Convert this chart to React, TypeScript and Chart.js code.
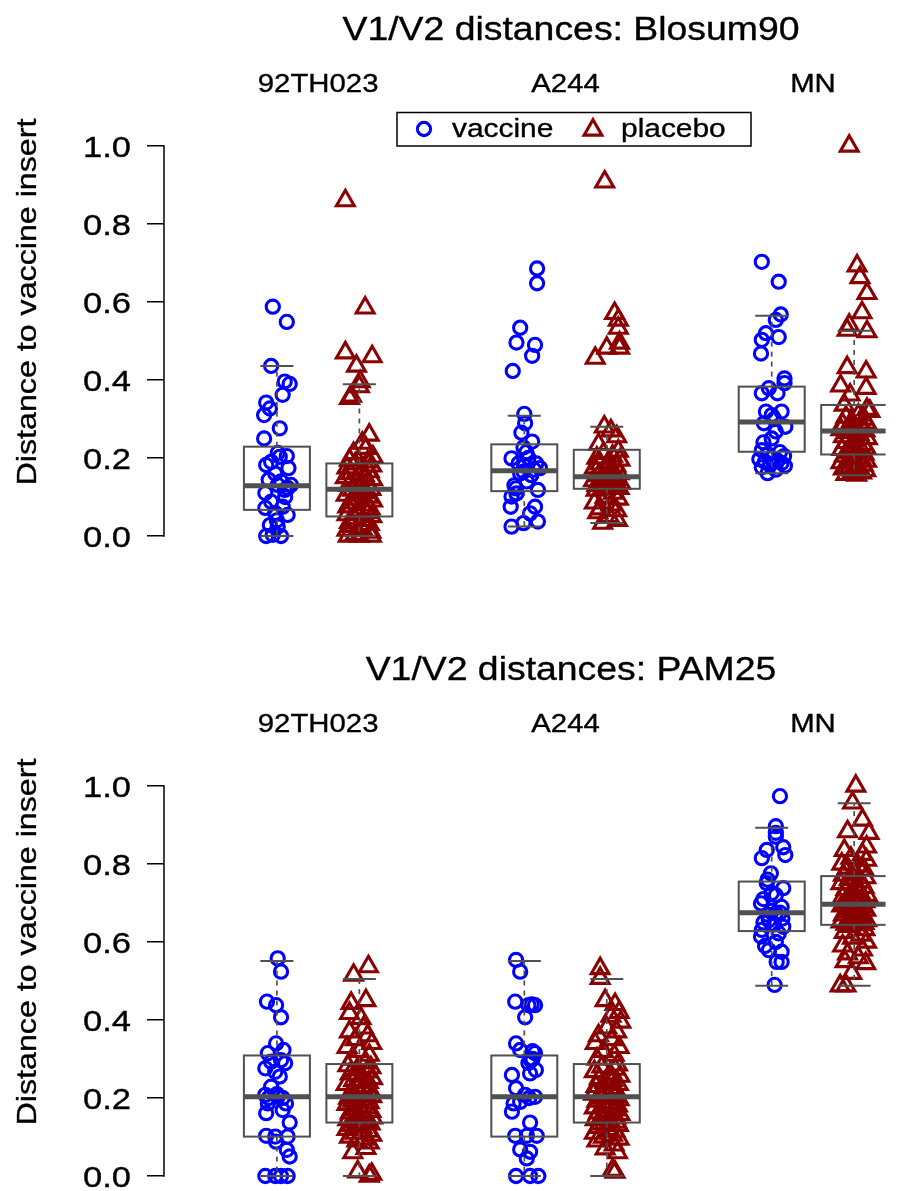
import { useEffect, useRef } from 'react';
import { Chart, registerables } from 'chart.js';

Chart.register(...registerables);

// ---------------- data ----------------
const GROUPS = ['92TH023', 'A244', 'MN'];
const ARMS = ['vaccine', 'placebo'];
const Y_TICKS = [0, 0.2, 0.4, 0.6, 0.8, 1.0];
const BOX_POS = [1, 2, 4, 5, 7, 8];
const GROUP_POS = [1.5, 4.5, 7.5];
const TITLES = ['V1/V2 distances: Blosum90', 'V1/V2 distances: PAM25'];
const Y_TITLE = 'Distance to vaccine insert';

// box stats [lowWhisker, q1, median, q3, highWhisker]
const B90_BOX = [
  [0, 0.067, 0.129, 0.229, 0.436],
  [0, 0.05, 0.12, 0.186, 0.389],
  [0.024, 0.115, 0.167, 0.235, 0.308],
  [0.033, 0.121, 0.152, 0.221, 0.28],
  [0.161, 0.216, 0.292, 0.383, 0.565],
  [0.156, 0.209, 0.269, 0.336, 0.526],
];
const PAM_BOX = [
  [0, 0.101, 0.203, 0.309, 0.551],
  [0, 0.137, 0.203, 0.287, 0.505],
  [0, 0.101, 0.203, 0.309, 0.551],
  [0, 0.137, 0.203, 0.287, 0.505],
  [0.488, 0.628, 0.675, 0.755, 0.893],
  [0.488, 0.644, 0.697, 0.769, 0.956],
];

// Blosum90 values
const B90_92_VAC = [0.588,0.549,0.436,0.396,0.39,0.362,0.342,0.327,0.31,0.276,0.25,0.213,0.205,0.203,0.19,0.182,0.174,0.16,0.144,0.14,0.131,0.131,0.123,0.118,0.11,0.1,0.088,0.075,0.072,0.059,0.054,0.04,0.028,0.024,0.003,0,0];
const B90_92_PLA = [0.86,0.585,0.47,0.46,0.436,0.396,0.383,0.359,0.353,0.259,0.238,0.225,0.212,0.203,
  0.195,0.19,0.185,0.18,0.175,0.17,0.165,0.16,0.155,0.15,0.145,0.14,0.135,0.13,0.125,0.12,0.118,0.112,0.105,0.1,0.095,0.09,0.085,0.08,0.075,0.07,0.065,0.06,0.055,0.05,0.045,0.04,0.035,0.03,0.025,0.02,0.015,0.01,0.005,0,0,0];
const B90_A244_VAC = [0.686,0.648,0.534,0.496,0.49,0.462,0.423,0.313,0.289,0.265,0.242,0.227,0.215,0.2,0.199,0.186,0.186,0.18,0.174,0.17,0.165,0.16,0.156,0.14,0.13,0.122,0.118,0.109,0.101,0.075,0.075,0.058,0.037,0.033,0.024];
const B90_A244_PLA = [0.908,0.571,0.554,0.533,0.495,0.482,0.482,0.456,
  0.28,0.27,0.255,0.235,
  0.218,0.212,0.205,0.2,0.195,0.19,0.185,0.18,0.175,0.17,0.165,0.16,0.155,
  0.15,0.148,0.145,0.142,0.14,0.137,0.135,0.132,0.13,0.127,0.125,0.122,
  0.118,0.11,0.1,0.095,0.085,0.08,0.07,0.065,0.06,0.05,0.04,0.033];
const B90_MN_VAC = [0.703,0.652,0.568,0.554,0.52,0.51,0.503,0.468,0.404,0.392,0.379,0.366,0.366,0.319,0.319,0.31,0.3,0.289,0.28,0.268,0.25,0.24,
  0.22,0.215,0.21,0.205,0.2,0.197,0.193,0.19,0.187,0.183,0.18,0.176,0.17,0.161];
const B90_MN_PLA = [1.0,0.693,0.663,0.622,0.573,0.541,0.528,0.524,0.432,0.421,0.385,0.379,0.362,0.336,0.325,0.32,
  0.31,0.305,0.3,0.295,0.29,0.287,0.283,0.28,0.277,0.275,0.273,0.27,
  0.265,0.26,0.255,0.25,0.245,0.24,0.235,0.23,0.226,0.222,0.218,0.214,0.21,
  0.205,0.2,0.196,0.192,0.188,0.185,0.182,0.178,0.175,0.172,0.168,0.165,0.162,0.158,0.156];

// PAM25 values
const PAM_92_VAC = [0.558,0.524,0.447,0.438,0.407,0.34,0.323,0.315,0.297,0.293,0.289,0.276,0.267,0.255,0.229,0.21,0.208,0.203,0.2,0.2,0.186,0.186,0.169,0.161,0.137,0.103,0.101,0.101,0.088,0.067,0.05,0,0,0,0];
const PAM_92_PLA = [0.537,0.515,0.45,0.443,0.417,0.404,
  0.38,0.37,0.36,0.35,0.34,0.33,0.32,0.31,0.3,0.29,
  0.283,0.278,0.272,0.267,0.262,0.256,0.25,0.245,0.24,0.235,0.23,0.225,0.22,0.215,0.21,0.207,0.204,
  0.2,0.196,0.192,0.188,0.184,0.18,0.175,0.17,0.166,0.162,0.158,0.153,0.149,0.145,0.141,0.138,
  0.134,0.13,0.125,0.12,0.115,0.11,0.105,0.1,0.095,0.09,0.085,0.071,0.06,0.011,0.005,0];
const PAM_A244_VAC = [0.554,0.524,0.447,0.44,0.438,0.438,0.407,0.34,0.323,0.32,0.315,0.3,0.297,0.29,0.272,0.263,0.259,0.225,0.208,0.203,0.2,0.19,0.186,0.165,0.137,0.103,0.103,0.103,0.068,0.062,0.045,0,0,0];
const PAM_A244_PLA = [0.532,0.507,0.45,0.44,0.42,0.41,0.395,
  0.38,0.37,0.36,0.35,0.34,0.33,0.32,0.31,0.3,
  0.285,0.28,0.274,0.268,0.262,0.256,0.25,0.245,0.24,0.235,0.23,0.225,0.22,0.215,0.21,0.207,0.204,
  0.2,0.196,0.192,0.188,0.184,0.18,0.175,0.17,0.166,0.162,0.158,0.153,0.149,0.145,0.141,0.138,
  0.134,0.13,0.125,0.12,0.115,0.11,0.105,0.1,0.095,0.09,0.08,0.07,0.06,0.015,0.01];
const PAM_MN_VAC = [0.974,0.897,0.88,0.87,0.843,0.836,0.823,0.815,0.776,0.76,0.751,0.738,0.725,0.72,0.71,0.699,0.69,0.68,0.675,0.674,0.67,0.66,0.656,0.65,0.645,0.639,0.631,0.622,0.614,0.6,0.59,0.579,0.575,0.549,0.549,0.49];
const PAM_MN_PLA = [1.0,0.957,0.913,0.883,0.879,0.844,
  0.835,0.825,0.815,0.81,0.8,0.795,0.79,0.785,0.778,0.772,
  0.765,0.76,0.755,0.75,0.745,0.74,0.735,0.73,0.725,0.72,0.715,0.71,0.707,0.704,0.702,0.7,0.698,
  0.693,0.69,0.686,0.682,0.678,0.674,0.67,0.666,0.662,0.658,0.655,0.652,0.65,0.648,0.646,0.645,
  0.64,0.632,0.625,0.618,0.61,0.6,0.59,0.58,0.57,0.56,0.55,0.545,0.52,0.488,0.488];

// horizontal jitter (in x units) of each point, as seen in the picture
const J_B90_92_VAC = [-0.05,0.12,-0.07,0.095,0.155,0.07,-0.13,-0.085,-0.155,0.035,-0.155,0.01,0.12,0.035,-0.07,-0.13,0.14,-0.02,-0.1,0.05,0.01,0.17,0.13,0.095,-0.14,0.1,-0.07,0.07,-0.14,-0.02,0.13,0,-0.085,0.01,-0.05,0.05,-0.13];
const J_B90_92_PLA = [-0.17,0.07,-0.17,0.155,-0.035,0.01,0,-0.095,-0.12,0.12,0.035,0.08,-0.07,0.165,
  -0.12,0.1,-0.05,0.15,-0.15,0.03,0.12,-0.1,0.06,-0.17,0.16,-0.03,0.09,-0.13,0.02,0.14,-0.08,0.07,-0.16,0.11,-0.04,0.16,-0.11,0.04,-0.14,0.13,-0.02,0.09,-0.15,0.15,-0.06,0.05,-0.12,0.12,-0.09,0.03,-0.15,0.14,-0.05,-0.135,0.145,0];
const J_B90_A244_VAC = [0.155,0.155,-0.05,-0.095,0.13,0.095,-0.14,0,0.01,-0.035,0.095,-0.01,0.025,0.05,-0.155,-0.07,0.145,0,0.19,0.12,-0.01,-0.05,0.085,0.03,-0.12,-0.1,0.165,-0.095,-0.155,-0.165,0.13,0.07,0.165,-0.01,-0.155];
const J_B90_A244_PLA = [-0.025,0.095,0.14,0.14,0.155,0.155,0,-0.14,
  -0.03,0.05,0.12,-0.1,
  0.14,-0.04,0.07,-0.12,0.16,0.02,-0.08,0.11,-0.15,0.06,-0.02,0.15,-0.1,
  0.08,-0.05,0.13,-0.16,0.04,-0.07,0.17,0,-0.12,0.1,-0.04,0.15,
  -0.13,0.08,-0.02,0.14,-0.15,0.05,-0.08,0.12,-0.11,0.03,0.13,-0.05];
const J_B90_MN_VAC = [-0.12,0.085,0.11,0.05,-0.07,0.085,-0.12,-0.13,0.155,0.155,-0.035,-0.12,0.07,-0.07,0.12,0,0.03,-0.095,0.165,0.05,0,-0.1,
  -0.12,0.1,-0.05,0.15,0,-0.15,0.07,-0.08,0.12,-0.02,0.16,-0.12,0.05,-0.05];
const J_B90_MN_PLA = [-0.06,0.035,0.07,0.155,0.095,-0.06,-0.085,0.155,-0.085,0.145,-0.165,0.145,-0.05,-0.12,0.155,0.19,
  0.05,-0.1,0.12,-0.03,0.15,-0.14,0.08,-0.06,0.1,0,-0.16,0.13,
  -0.08,0.06,-0.13,0.16,0,-0.1,0.11,-0.04,0.14,-0.15,0.04,-0.07,0.12,
  -0.12,0.08,-0.03,0.15,-0.16,0.02,0.11,-0.09,0.06,-0.13,0.14,-0.02,0.09,-0.1,0.03];
const J_PAM_92_VAC = [0.01,0.05,-0.12,-0.01,0.05,-0.01,0.08,-0.11,0.05,-0.07,0.1,-0.14,-0.02,0.035,-0.07,0,-0.14,0.01,-0.1,0.07,-0.11,0.11,0.07,-0.13,0.155,-0.13,-0.02,0.13,-0.01,0.12,0.155,-0.14,-0.02,0.05,0.13];
const J_PAM_92_PLA = [0.11,-0.07,0.08,-0.1,-0.12,0.02,
  0.05,-0.12,0.1,-0.05,0.15,-0.15,0,0.12,-0.09,0.07,
  -0.14,0.14,-0.03,0.09,-0.11,0.03,0.16,-0.07,0.11,-0.16,0.05,-0.02,0.13,-0.1,0.08,-0.05,0.15,
  -0.13,0.04,-0.08,0.12,-0.15,0,0.1,-0.06,0.14,-0.11,0.06,-0.02,0.16,-0.14,0.09,-0.04,
  0.13,-0.1,0.03,-0.15,0.11,-0.05,0.15,-0.12,0.06,-0.03,0.12,0.08,-0.08,-0.02,0.15,0.12];
const J_PAM_A244_VAC = [-0.1,-0.05,-0.11,0.09,0.05,0.13,0.01,-0.1,-0.05,0.1,0.13,0.1,0.08,0.05,0.14,0.07,-0.15,-0.1,0.01,0.13,0.06,-0.05,-0.13,-0.15,0.07,-0.11,0.03,0.15,-0.05,0.07,0.03,-0.1,0.07,0.17];
const J_PAM_A244_PLA = [-0.08,-0.08,-0.02,0.1,0.15,0.05,0.17,
  0,0.12,-0.1,0.06,-0.14,0.15,-0.04,0.09,-0.12,
  0.13,-0.06,0.1,-0.15,0.04,0.16,-0.09,0.07,-0.02,0.14,-0.13,0.08,-0.05,0.12,-0.16,0.02,0.1,
  -0.07,0.15,-0.12,0.05,-0.03,0.13,-0.15,0.09,0,-0.1,0.16,-0.06,0.11,-0.14,0.04,0.12,
  -0.08,0.14,-0.11,0.02,0.1,-0.15,0.07,-0.04,0.15,-0.12,0.09,-0.02,0.13,0.07,0.1];
const J_PAM_MN_VAC = [0.1,0.05,0.05,0.05,0.14,-0.06,0.165,-0.12,-0.01,-0.05,-0.06,0.14,0,0.05,-0.1,-0.13,0.12,0,0.1,0.05,-0.05,0.13,-0.035,-0.1,0.03,0.14,-0.12,0.085,-0.13,0.05,-0.08,-0.035,0.12,0.06,0.12,0.035];
const J_PAM_MN_PLA = [0.02,-0.02,0.1,-0.08,0.18,0.15,
  -0.12,0.1,-0.04,0.15,-0.15,0.05,-0.08,0.12,0,-0.13,
  0.14,-0.06,0.08,-0.16,0.03,0.12,-0.1,0.06,-0.03,0.16,-0.14,0.09,-0.07,0.13,0,-0.11,0.05,
  -0.15,0.11,-0.02,0.14,-0.09,0.06,-0.13,0.1,0,-0.06,0.15,-0.16,0.04,0.12,-0.1,0.07,
  -0.05,0.13,-0.12,0.08,-0.02,0.15,-0.14,0.1,-0.08,0.05,-0.11,0.14,-0.03,-0.17,-0.1];

const B90_SERIES = [B90_92_VAC, B90_92_PLA, B90_A244_VAC, B90_A244_PLA, B90_MN_VAC, B90_MN_PLA];
const B90_JITTER = [J_B90_92_VAC, J_B90_92_PLA, J_B90_A244_VAC, J_B90_A244_PLA, J_B90_MN_VAC, J_B90_MN_PLA];
const PAM_SERIES = [PAM_92_VAC, PAM_92_PLA, PAM_A244_VAC, PAM_A244_PLA, PAM_MN_VAC, PAM_MN_PLA];
const PAM_JITTER = [J_PAM_92_VAC, J_PAM_92_PLA, J_PAM_A244_VAC, J_PAM_A244_PLA, J_PAM_MN_VAC, J_PAM_MN_PLA];

// ---------------- styles ----------------
const FONT = '"Liberation Sans", Arial, Helvetica, sans-serif';
const SX = 1.15; // horizontal stretch of the reference glyphs
const BLUE = '#0000ff';
const DARKRED = '#8b0000';
const BOX_COLOR = '#505050';
const CIRCLE_R = 6.6;
const TRI_R = 10.3;
const MARK_LW = 3.1;
const BOX_HALF = 0.4;
const CAP_HALF = 0.2;
const W = 899;
const H = 640;

function drawText(ctx: CanvasRenderingContext2D, text: string, x: number, y: number, size: number, align: CanvasTextAlign, rotate = false) {
  ctx.save();
  ctx.translate(x, y);
  if (rotate) ctx.rotate(-Math.PI / 2);
  ctx.scale(SX, 1);
  ctx.font = `${size}px ${FONT}`;
  ctx.textAlign = align;
  ctx.textBaseline = 'alphabetic';
  ctx.fillStyle = '#000';
  ctx.fillText(text, 0, 0);
  ctx.strokeStyle = '#000';
  ctx.lineWidth = 0.35;
  ctx.strokeText(text, 0, 0);
  ctx.restore();
}

function line(ctx: CanvasRenderingContext2D, x1: number, y1: number, x2: number, y2: number) {
  ctx.beginPath();
  ctx.moveTo(x1, y1);
  ctx.lineTo(x2, y2);
  ctx.stroke();
}

function makePanelPlugin(title: string, boxes: number[][], showLegend: boolean) {
  return {
    id: 'panelDecor',
    afterDatasetsDraw(chart: any) {
      const { ctx, chartArea, scales } = chart;
      const x = scales.x;
      const y = scales.y;
      ctx.save();
      ctx.beginPath();
      ctx.rect(chartArea.left, chartArea.top, chartArea.right - chartArea.left, chartArea.bottom - chartArea.top);
      ctx.clip();
      ctx.strokeStyle = BOX_COLOR;
      boxes.forEach((b, i) => {
        const p = BOX_POS[i];
        const xl = x.getPixelForValue(p - BOX_HALF);
        const xr = x.getPixelForValue(p + BOX_HALF);
        const xc = x.getPixelForValue(p);
        const cl = x.getPixelForValue(p - CAP_HALF);
        const cr = x.getPixelForValue(p + CAP_HALF);
        const [lo, q1, med, q3, hi] = b.map((v) => y.getPixelForValue(v));
        ctx.lineWidth = 1.7;
        ctx.setLineDash([5, 5]);
        line(ctx, xc, q3, xc, hi);
        line(ctx, xc, q1, xc, lo);
        ctx.setLineDash([]);
        ctx.lineWidth = 2;
        line(ctx, cl, hi, cr, hi);
        line(ctx, cl, lo, cr, lo);
        ctx.strokeRect(xl, q3, xr - xl, q1 - q3);
        ctx.lineWidth = 5;
        line(ctx, xl, med, xr, med);
      });
      ctx.restore();
    },
    afterDraw(chart: any) {
      const { ctx, chartArea, scales } = chart;
      const x = scales.x;
      const y = scales.y;
      ctx.save();
      // y axis line from first to last tick
      ctx.strokeStyle = '#000';
      ctx.lineWidth = 1.5;
      const y0 = y.getPixelForValue(Y_TICKS[0]);
      const y1 = y.getPixelForValue(Y_TICKS[Y_TICKS.length - 1]);
      line(ctx, chartArea.left, y0 + 0.75, chartArea.left, y1 - 0.75);
      // tick labels
      y.ticks.forEach((t: any) => {
        drawText(ctx, t.value.toFixed(1), 131, y.getPixelForValue(t.value) + 10.8, 30, 'right');
      });
      // y title
      drawText(ctx, Y_TITLE, 35.5, (chartArea.top + chartArea.bottom) / 2, 28, 'center', true);
      // main title
      drawText(ctx, title, 571, 40, 32.5, 'center');
      // group labels
      GROUPS.forEach((g, i) => {
        drawText(ctx, g, x.getPixelForValue(GROUP_POS[i]), 92, 25.5, 'center');
      });
      if (showLegend) {
        ctx.strokeStyle = '#000';
        ctx.lineWidth = 1.5;
        ctx.strokeRect(397, 112.5, 354, 33.5);
        ctx.lineWidth = MARK_LW;
        ctx.strokeStyle = BLUE;
        ctx.beginPath();
        ctx.arc(424, 129, CIRCLE_R, 0, Math.PI * 2);
        ctx.stroke();
        drawText(ctx, ARMS[0], 452, 137, 26, 'left');
        ctx.strokeStyle = DARKRED;
        const tx = 593, ty = 130;
        ctx.beginPath();
        ctx.moveTo(tx, ty - TRI_R);
        ctx.lineTo(tx + TRI_R * Math.sin((2 * Math.PI) / 3), ty + TRI_R / 2);
        ctx.lineTo(tx - TRI_R * Math.sin((2 * Math.PI) / 3), ty + TRI_R / 2);
        ctx.closePath();
        ctx.stroke();
        drawText(ctx, ARMS[1], 621, 137, 26, 'left');
      }
      ctx.restore();
    },
  };
}

function buildConfig(title: string, series: number[][], jitter: number[][], boxes: number[][], showLegend: boolean): any {
  const datasets = series.map((vals, i) => {
    const isVac = i % 2 === 0;
    const jit = jitter[i];
    return {
      label: `${GROUPS[Math.floor(i / 2)]} ${ARMS[i % 2]}`,
      data: vals.map((v, k) => ({ x: BOX_POS[i] + (jit[k] ?? 0), y: v })),
      pointStyle: isVac ? 'circle' : 'triangle',
      pointRadius: isVac ? CIRCLE_R : TRI_R,
      pointHoverRadius: isVac ? CIRCLE_R : TRI_R,
      borderWidth: MARK_LW,
      pointBorderWidth: MARK_LW,
      borderColor: isVac ? BLUE : DARKRED,
      pointBorderColor: isVac ? BLUE : DARKRED,
      backgroundColor: 'rgba(0,0,0,0)',
      pointBackgroundColor: 'rgba(0,0,0,0)',
      showLine: false,
    };
  });
  return {
    type: 'scatter',
    data: { datasets },
    options: {
      responsive: false,
      animation: false,
      events: [],
      layout: { padding: { left: 147, right: 0, top: 49.3, bottom: 85.3 } },
      plugins: { legend: { display: false }, tooltip: { enabled: false }, title: { display: false } },
      scales: {
        x: { type: 'linear', display: false, min: -0.369, max: 8.381 },
        y: {
          type: 'linear',
          min: -0.048,
          max: 1.248,
          afterBuildTicks: (s: any) => {
            s.ticks = Y_TICKS.map((v) => ({ value: v }));
          },
          afterFit: (s: any) => {
            s.width = 17;
          },
          grid: { display: true, drawOnChartArea: false, drawTicks: true, tickLength: 17, color: '#000', lineWidth: 1.5 },
          border: { display: false },
          ticks: { display: false },
        },
      },
    },
    plugins: [makePanelPlugin(title, boxes, showLegend)],
  };
}

export default function App() {
  const topRef = useRef<HTMLCanvasElement>(null);
  const botRef = useRef<HTMLCanvasElement>(null);
  useEffect(() => {
    const c1 = new Chart(topRef.current as HTMLCanvasElement, buildConfig(TITLES[0], B90_SERIES, B90_JITTER, B90_BOX, true));
    const c2 = new Chart(botRef.current as HTMLCanvasElement, buildConfig(TITLES[1], PAM_SERIES, PAM_JITTER, PAM_BOX, false));
    return () => {
      c1.destroy();
      c2.destroy();
    };
  }, []);
  return (
    <div style={{ position: 'absolute', left: 0, top: 0, width: W, height: 1191, overflow: 'hidden', background: '#fff' }}>
      <canvas ref={topRef} width={W} height={H} style={{ position: 'absolute', left: 0, top: 0, width: W, height: H }} />
      <canvas ref={botRef} width={W} height={H} style={{ position: 'absolute', left: 0, top: H, width: W, height: H }} />
    </div>
  );
}
